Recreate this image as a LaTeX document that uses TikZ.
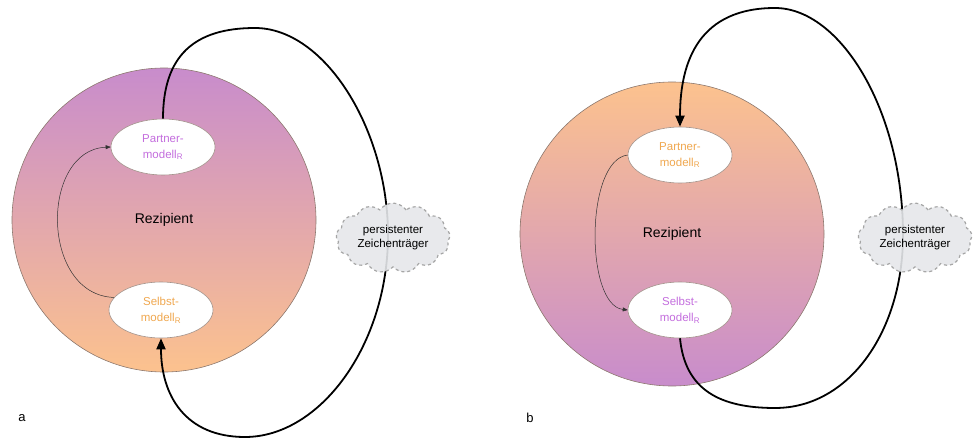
\documentclass[tikz,border=0pt]{standalone}
\usepackage{fontspec}
\setmainfont{Liberation Sans}
\usetikzlibrary{shapes.geometric,shapes.symbols,arrows.meta}
\definecolor{purp}{RGB}{200,140,204}
\definecolor{orng}{RGB}{252,194,142}
\definecolor{ptext}{RGB}{196,110,222}
\definecolor{otext}{RGB}{240,168,80}
\definecolor{rim}{RGB}{140,120,110}
\definecolor{cloudfill}{RGB}{229,231,234}
\tikzset{
  recip/.style={circle, minimum size=304pt, draw=rim, line width=0.6pt, font=\fontsize{14}{16}\selectfont},
  model/.style={ellipse, draw=rim!80, line width=0.6pt, fill=white, minimum width=104pt, minimum height=56pt, inner sep=0pt, align=center, font=\fontsize{11.5}{16}\selectfont},
  carrier/.style={cloud, cloud puffs=13, cloud puff arc=110, aspect=1.7, draw=gray!70, dashed, line width=1.2pt, fill=cloudfill, fill opacity=0.9, text opacity=1, minimum width=114pt, minimum height=68pt, inner sep=0pt, align=center, font=\fontsize{11.5}{14}\selectfont},
  bigline/.style={line width=1.8pt, -{Triangle[length=11pt,width=9pt]}},
  thinline/.style={line width=0.5pt, draw=black!80, -{Triangle[length=5pt,width=4pt]}},
  panel/.style={font=\fontsize{13}{15}\selectfont}
}
\begin{document}
\begin{tikzpicture}[x=1pt,y=-1pt]
\useasboundingbox (0,0) rectangle (980,441);
% ---------- panel a ----------
\node[recip, top color=purp, bottom color=orng] (ca) at (164,220) {Rezipient};
\node[model, text=ptext] (pa) at (163,147) {Partner-\\modell\textsubscript{R}};
\node[model, text=otext] (sa) at (161,310) {Selbst-\\modell\textsubscript{R}};
\draw[thinline] (sa.165) .. controls (40,295) and (40,150) .. (pa.west);
\coordinate (ta) at (255,28);
\coordinate (ra) at (388,235);
\coordinate (ba) at (245,437);
\draw[bigline] (pa.north) .. controls (163,55) and (195,28) .. (ta)
  .. controls (325,28) and (388,130) .. (ra)
  .. controls (388,345) and (320,437) .. (ba)
  .. controls (185,437) and (161,395) .. (sa.south);
\node[carrier] (za) at (393,238) {persistenter\\Zeichenträger};
\node[panel] (la) at (22,418) {a};
% ---------- panel b ----------
\node[recip, top color=orng, bottom color=purp] (cb) at (672,234) {Rezipient};
\node[model, text=otext] (pb) at (680,155) {Partner-\\modell\textsubscript{R}};
\node[model, text=ptext] (sb) at (680,310) {Selbst-\\modell\textsubscript{R}};
\draw[thinline] (pb.west) .. controls (585,160) and (585,305) .. (sb.west);
\coordinate (tb) at (775,8);
\coordinate (rb) at (903,235);
\coordinate (bb) at (775,408);
\draw[bigline] (sb.south) .. controls (685,390) and (720,408) .. (bb)
  .. controls (850,408) and (903,330) .. (rb)
  .. controls (903,110) and (840,8) .. (tb)
  .. controls (700,8) and (680,60) .. (pb.north);
\node[carrier] (zb) at (915,238) {persistenter\\Zeichenträger};
\node[panel] (lb) at (530,418) {b};
\end{tikzpicture}
\end{document}
